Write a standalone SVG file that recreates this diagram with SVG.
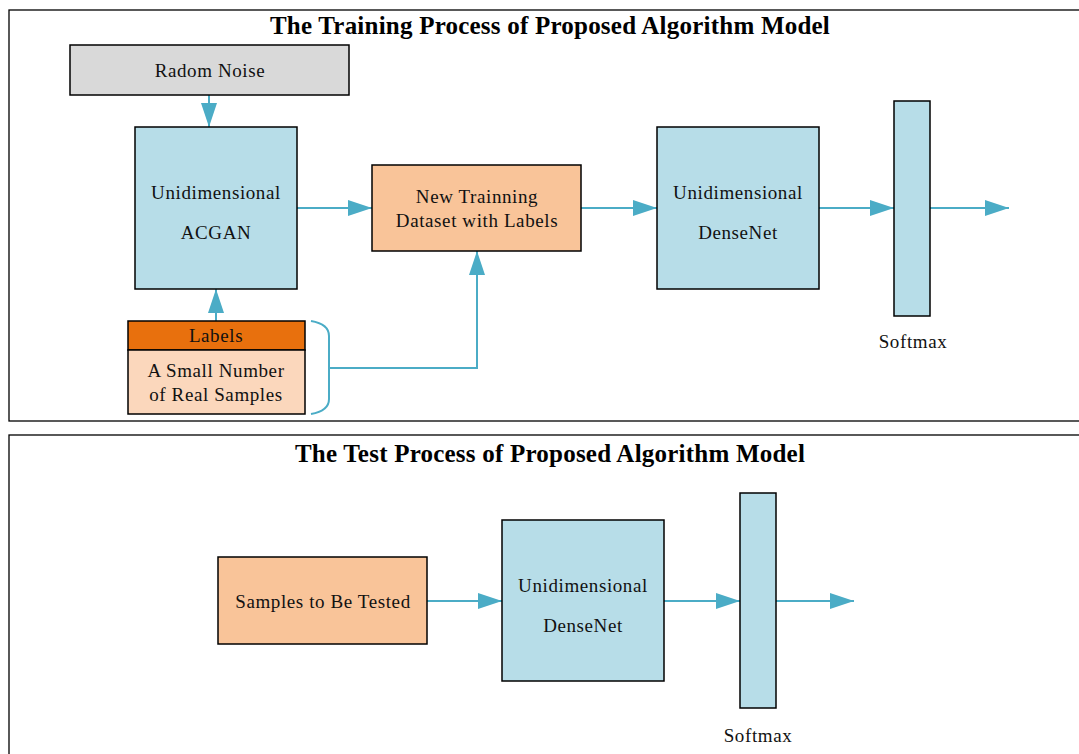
<svg xmlns="http://www.w3.org/2000/svg" width="1079" height="754" viewBox="0 0 1079 754">
<style>
.frame{fill:none;stroke:#000;stroke-width:1.3}
.box{stroke:#000;stroke-width:1.5}
.blue{fill:#b7dde8}
.peach{fill:#f9c499}
.gray{fill:#d9d9d9}
.orange{fill:#e8700d}
.light{fill:#fbd7bc}
.t{font-family:"Liberation Serif","Times New Roman",serif;font-size:19px;letter-spacing:0.6px;fill:#111;text-anchor:middle}
.title{font-family:"Liberation Serif","Times New Roman",serif;font-size:25px;letter-spacing:0.22px;font-weight:bold;fill:#000;text-anchor:middle}
.c{fill:none;stroke:#4bacc6;stroke-width:2}
</style>
<defs>
<marker id="ah" markerWidth="24" markerHeight="16" refX="24" refY="8" orient="auto" markerUnits="userSpaceOnUse">
<path d="M0,0 L24,8 L0,16 Z" fill="#4bacc6"/>
</marker>
</defs>
<rect width="1079" height="754" fill="#fff"/>
<g id="frame-training">
<rect class="frame" x="9" y="10" width="1080" height="411"/>
<text class="title" x="550" y="34">The Training Process of Proposed Algorithm Model</text>
</g>
<g id="frame-test">
<rect class="frame" x="9" y="435" width="1080" height="330"/>
<text class="title" x="550" y="462">The Test Process of Proposed Algorithm Model</text>
</g>
<g id="connectors">
<line class="c" x1="209" y1="95" x2="209" y2="127" marker-end="url(#ah)"/>
<line class="c" x1="297" y1="208" x2="372" y2="208" marker-end="url(#ah)"/>
<line class="c" x1="581" y1="208" x2="657" y2="208" marker-end="url(#ah)"/>
<line class="c" x1="819" y1="208" x2="894" y2="208" marker-end="url(#ah)"/>
<line class="c" x1="930" y1="208" x2="1009" y2="208" marker-end="url(#ah)"/>
<line class="c" x1="216" y1="321" x2="216" y2="289" marker-end="url(#ah)"/>
<path class="c" d="M311,321 Q329,324 329,336 L329,399 Q329,411 311,414"/>
<polyline class="c" points="329,368 477,368 477,251" marker-end="url(#ah)"/>
<line class="c" x1="427" y1="601" x2="502" y2="601" marker-end="url(#ah)"/>
<line class="c" x1="664" y1="601" x2="740" y2="601" marker-end="url(#ah)"/>
<line class="c" x1="776" y1="601" x2="854" y2="601" marker-end="url(#ah)"/>
</g>
<g id="radom-noise">
<rect class="box gray" x="70" y="45" width="279" height="50"/>
<text class="t" x="210" y="77">Radom Noise</text>
</g>
<g id="acgan">
<rect class="box blue" x="135" y="127" width="162" height="162"/>
<text class="t" x="216" y="199">Unidimensional</text>
<text class="t" x="216" y="239">ACGAN</text>
</g>
<g id="new-dataset">
<rect class="box peach" x="372" y="165" width="209" height="86"/>
<text class="t" x="477" y="203">New Trainning</text>
<text class="t" x="477" y="227">Dataset with Labels</text>
</g>
<g id="densenet-train">
<rect class="box blue" x="657" y="127" width="162" height="162"/>
<text class="t" x="738" y="199">Unidimensional</text>
<text class="t" x="738" y="239">DenseNet</text>
</g>
<g id="softmax-train">
<rect class="box blue" x="894" y="101" width="36" height="215"/>
<text class="t" x="913" y="348">Softmax</text>
</g>
<g id="labels">
<rect class="box orange" x="128" y="321" width="177" height="29"/>
<text class="t" x="216" y="342">Labels</text>
</g>
<g id="real-samples">
<rect class="box light" x="128" y="350" width="177" height="64"/>
<text class="t" x="216" y="377">A Small Number</text>
<text class="t" x="216" y="401">of Real Samples</text>
</g>
<g id="samples-test">
<rect class="box peach" x="218" y="557" width="209" height="87"/>
<text class="t" x="323" y="608">Samples to Be Tested</text>
</g>
<g id="densenet-test">
<rect class="box blue" x="502" y="520" width="162" height="161"/>
<text class="t" x="583" y="592">Unidimensional</text>
<text class="t" x="583" y="632">DenseNet</text>
</g>
<g id="softmax-test">
<rect class="box blue" x="740" y="493" width="36" height="215"/>
<text class="t" x="758" y="742">Softmax</text>
</g>
</svg>
